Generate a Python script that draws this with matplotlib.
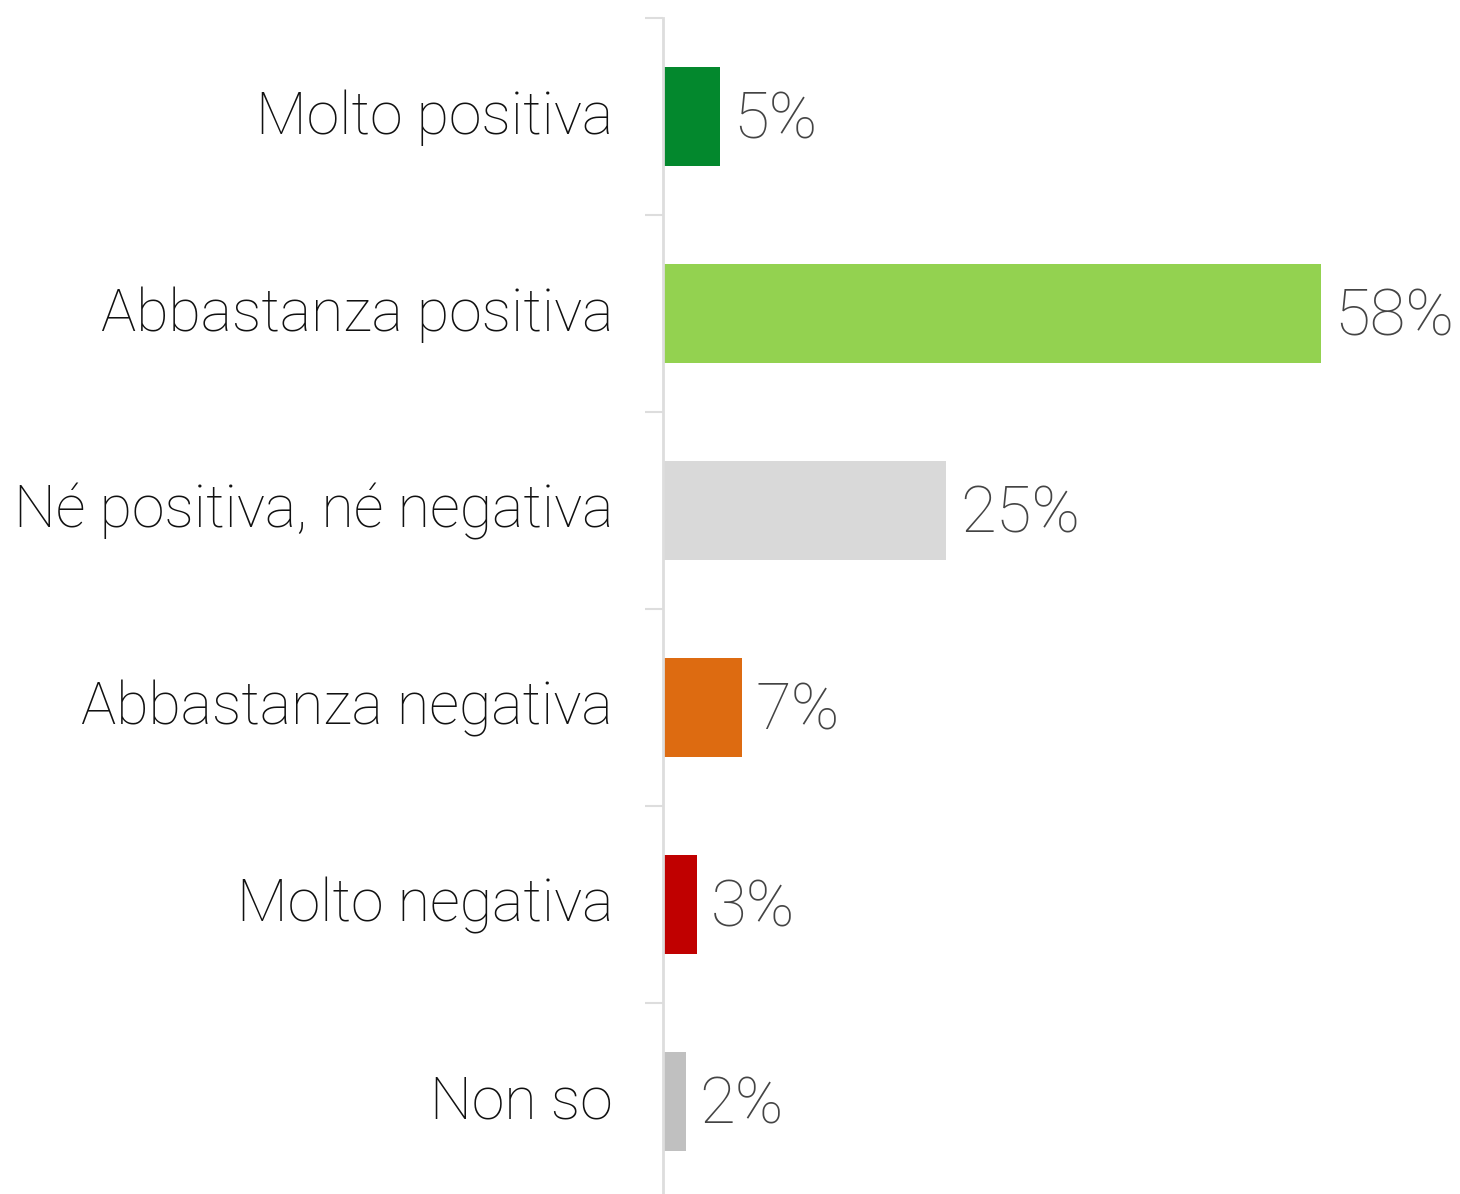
import matplotlib
matplotlib.use('Agg')
import matplotlib.pyplot as plt
import matplotlib.transforms as mtransforms

categories = ['Molto positiva', 'Abbastanza positiva', 'Né positiva, né negativa',
              'Abbastanza negativa', 'Molto negativa', 'Non so']
values = [5, 58, 25, 7, 3, 2]
colors = ['#03882d', '#93d250', '#d9d9d9', '#dd6b11', '#c00000', '#c0c0c0']

plt.rcParams['font.family'] = ['Roboto', 'DejaVu Sans']

fig = plt.figure(figsize=(14.6, 11.94), dpi=100)
ax = fig.add_axes([663 / 1460, 0, 797 / 1460, 1176 / 1194])

y = list(range(len(categories)))
ax.barh(y, values, height=0.5, color=colors)
ax.set_ylim(5.47, -0.5)
ax.set_xlim(0, 70.3)

# small upward shift so the text sits like in the original
shift = mtransforms.ScaledTranslation(0, 0.05, fig.dpi_scale_trans)

for yi, v in zip(y, values):
    ax.text(v + 1.2, yi, f'{v}%', va='center_baseline', ha='left', fontsize=47,
            fontweight='light', color='#444444',
            transform=ax.transData + mtransforms.ScaledTranslation(0, 0.02, fig.dpi_scale_trans))

ax.set_yticks(y)
ax.set_yticklabels(categories, fontsize=42.5, fontweight='light', color='#111111',
                   va='center_baseline')
ax.tick_params(axis='y', which='major', length=0, pad=36)
for lab in ax.get_yticklabels():
    lab.set_transform(lab.get_transform() + shift)
ax.set_yticks([i - 0.5 for i in range(len(categories))], minor=True)
ax.tick_params(axis='y', which='minor', length=13, width=1.5, color='#dddddd')
ax.set_xticks([])
for s in ['top', 'right', 'bottom']:
    ax.spines[s].set_visible(False)
ax.spines['left'].set_color('#dddddd')
ax.spines['left'].set_linewidth(2)

fig.savefig('out.png', dpi=100)
